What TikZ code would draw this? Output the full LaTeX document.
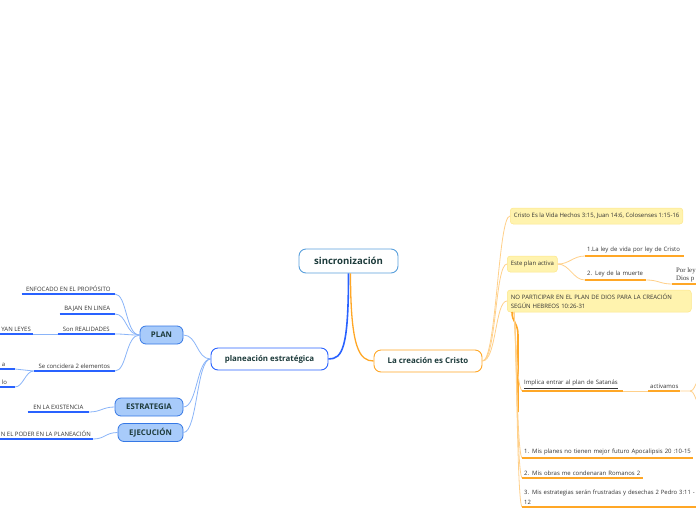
\documentclass[tikz,border=0pt]{standalone}
\usepackage{fontspec}
\setmainfont{Open Sans}
\newfontfamily\serifalt{Liberation Serif}
\usetikzlibrary{calc}
\definecolor{mapBlue}{HTML}{2962FF}
\definecolor{mapBlueLt}{HTML}{8AB4F8}
\definecolor{planFill}{HTML}{A8CBFA}
\definecolor{planLine}{HTML}{3578E5}
\definecolor{sincLine}{HTML}{5AA0DC}
\definecolor{mapOrange}{HTML}{FFA726}
\definecolor{mapOrangeLt}{HTML}{FFD08A}
\definecolor{noteFill}{HTML}{FFF3AE}
\definecolor{noteLine}{HTML}{FDE68A}
\definecolor{nodeText}{HTML}{1D3B3B}
\definecolor{leafText}{HTML}{333333}

\begin{document}
\begin{tikzpicture}[x=1pt, y=-1pt,
    central/.style={rectangle, rounded corners=7pt, line width=0.9pt, fill=white,
                    font=\fontsize{9.6}{11}\selectfont\bfseries\color{nodeText}},
    mainidea/.style={rectangle, rounded corners=7pt, line width=0.9pt, fill=white,
                     font=\fontsize{7.9}{9}\selectfont\bfseries\color{nodeText}, minimum height=22pt},
    phase/.style={rectangle, rounded corners=6pt, draw=planLine, line width=0.8pt, fill=planFill,
                  font=\fontsize{7.8}{9}\selectfont\bfseries\color{nodeText}, minimum height=18pt},
    note/.style={rectangle, rounded corners=3pt, draw=noteLine, line width=0.5pt, fill=noteFill,
                 font=\fontsize{6}{10}\selectfont\color{leafText}, minimum height=16pt,
                 inner xsep=3.5pt, anchor=west},
    leaf/.style={font=\fontsize{6}{10}\selectfont\color{leafText}, inner xsep=2pt, inner ysep=2.5pt},
    leafL/.style={leaf, anchor=south east},
    leafR/.style={leaf, anchor=south west, align=left},
    blueLink/.style={draw=mapBlueLt, line width=0.8pt},
    orangeLink/.style={draw=mapOrangeLt, line width=0.8pt},
  ]
  \useasboundingbox (0,0) rectangle (696,520);

  % centre and main ideas
  \node[central, draw=sincLine, minimum width=99pt, minimum height=24pt] (sinc) at (348.5,261) {sincronización};
  \node[mainidea, draw=mapBlue, minimum width=117pt] (plane) at (269.5,359) {planeación estratégica};
  \node[mainidea, draw=mapOrange, minimum width=108pt] (creac) at (428,361) {La creación es Cristo};

  \draw[mapBlue, line width=1.6pt] (sinc.south) .. controls +(0,75) and +(14,0) .. (plane.east);
  \draw[mapOrange, line width=1.3pt] ([xshift=2pt]sinc.south) .. controls +(0,75) and +(-14,0) .. (creac.west);

  % left side
  \node[phase, minimum width=43pt] (plan) at (161.5,335) {PLAN};
  \node[phase, minimum width=68pt] (estr) at (149,407) {ESTRATEGIA};
  \node[phase, minimum width=65pt] (ejec) at (150.5,432.5) {EJECUCIÓN};
  \foreach \p in {plan,estr,ejec}
    \draw[blueLink] (plane.west) .. controls +(-14,0) and +(14,0) .. (\p.east);

  \node[leafL, minimum width=93pt] (enf) at (115,294) {ENFOCADO EN EL PROPÓSITO};
  \node[leafL, minimum width=55pt] (baj) at (115,314) {BAJAN EN LINEA};
  \node[leafL, minimum width=57pt] (son) at (115,334) {Son REALIDADES};
  \node[leafL, minimum width=33pt] (ley) at (33,334) {YAN LEYES};
  \node[leafL, minimum width=81pt] (dos) at (115,371) {Se concidera 2 elementos};
  \node[leafL, text width=11pt, align=left] (ea) at (15,369) {a};
  \node[leafL, text width=11pt, align=left] (lo) at (15,387) {lo};
  \node[leafL, minimum width=61pt] (exist) at (89,412) {EN LA EXISTENCIA};
  \node[leafL, minimum width=93pt] (poder) at (93,439) {N EL PODER EN LA PLANEACIÓN};

  \foreach \n in {enf,baj,son,dos}
    \draw[blueLink] (plan.west) .. controls +(-14,0) and +(12,0) .. (\n.south east);
  \draw[blueLink] (son.south west) -- (ley.south east);
  \draw[blueLink] (dos.south west) -- (ea.south east);
  \draw[blueLink] (dos.south west) .. controls +(-8,0) and +(8,0) .. (lo.south east);
  \draw[blueLink] (estr.west) .. controls +(-12,0) and +(12,0) .. (exist.south east);
  \draw[blueLink] (ejec.west) .. controls +(-12,0) and +(12,0) .. (poder.south east);
  \foreach \n in {enf,baj,son,ley,dos,ea,lo,exist,poder}
    \draw[mapBlue, line width=1.6pt] (\n.south west) -- (\n.south east);

  % right side
  \node[note] (cristo) at (510,216) {Cristo Es la Vida Hechos 3:15, Juan 14:6, Colosenses 1:15-16};
  \node[note] (activa) at (507,264) {Este plan activa};
  \node[note, text width=177pt, minimum height=22pt, align=left, font=\fontsize{6}{9.5}\selectfont\color{leafText}] (nopart) at (507,301)
    {NO PARTICIPAR EN EL PLAN DE DIOS PARA LA CREACIÓN\\SEGÚN HEBREOS 10:26-31};
  \foreach \b in {cristo,activa,nopart}
    \draw[orangeLink] (creac.east) .. controls +(14,0) and +(-12,0) .. (\b.west);

  \node[leafR, text width=95pt] (vida) at (585,256) {1.La ley de vida por ley de Cristo};
  \node[leafR, text width=57pt] (muerte) at (585,280) {2. Ley de la muerte};
  \node[leafR, font=\serifalt\fontsize{6.8}{8}\selectfont\color{leafText}, inner xsep=4pt, inner ysep=2pt] (porley) at (672,284) {Por ley\\Dios p};
  \draw[orangeLink] (activa.east) .. controls +(12,0) and +(-12,0) .. (vida.south west);
  \draw[orangeLink] (activa.east) .. controls +(12,0) and +(-12,0) .. (muerte.south west);
  \draw[orangeLink] (muerte.south east) .. controls +(12,0) and +(-12,0) .. (porley.south west);

  \node[leafR, text width=97pt] (implica) at (522,391) {\underline{Implica entrar al plan de Satanás}};
  \node[leafR, text width=28pt, align=center] (activ) at (648,391) {activamos};
  \node[leafR, text width=167pt] (mis1) at (522,458) {1. Mis planes no tienen mejor futuro Apocalipsis 20 :10-15};
  \node[leafR, text width=117pt] (mis2) at (522,478) {2. Mis obras me condenaran Romanos 2};
  \node[leafR, text width=180pt, font=\fontsize{5.9}{10}\selectfont\color{leafText}] (mis3) at (522,507) {3. Mis estrategias serán frustradas y desechas 2 Pedro 3:11 -\\12};

  \coordinate (trunkTop) at (512,312);
  \coordinate (trunkBend) at (518,335);
  \coordinate (trunkEnd) at (518,412);
  \draw[mapOrange, line width=1.6pt] (trunkTop) .. controls +(0,10) and +(0,-12) .. (trunkBend) -- (trunkEnd);
  \foreach \n in {implica,mis1,mis2,mis3}
    \draw[orangeLink] ([xshift=2pt]trunkTop) .. controls +(3,40) and +(-5,-6) .. (\n.south west);

  \coordinate (actFork) at (690,391);
  \coordinate (actUp) at (697,382);
  \coordinate (actDown) at (697,401);
  \draw[orangeLink] (implica.south east) -- (activ.south west);
  \draw[orangeLink] (activ.south east) -- (actFork) .. controls +(4,0) and +(-2,3) .. (actUp);
  \draw[orangeLink] (actFork) .. controls +(4,0) and +(-2,-3) .. (actDown);

  \foreach \n in {vida,muerte,porley,implica,activ,mis1,mis2,mis3}
    \draw[mapOrange, line width=1.6pt] (\n.south west) -- (\n.south east);
\end{tikzpicture}
\end{document}
